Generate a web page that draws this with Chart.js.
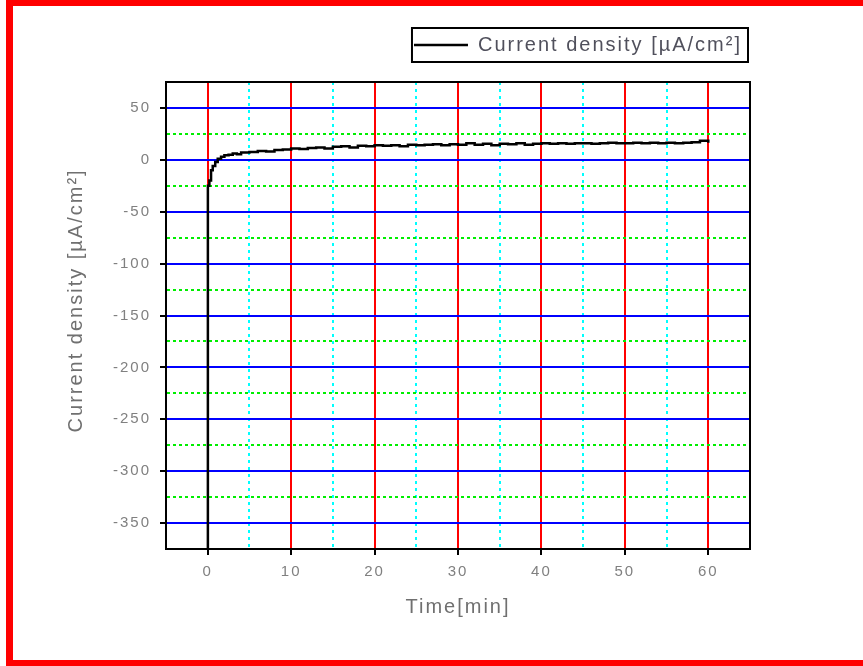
<!DOCTYPE html>
<html>
<head>
<meta charset="utf-8">
<script src="https://cdn.jsdelivr.net/npm/chart.js@4.4.1/dist/chart.umd.min.js"></script>
<style>
html, body { margin: 0; padding: 0; background: #fff; overflow: hidden; }
#wrap { position: relative; width: 863px; height: 666px; }
#frame { position: absolute; left: 6px; top: 0; width: 900px; height: 666px; box-sizing: border-box;
  border-top: 6px solid #f00; border-left: 7px solid #f00; border-bottom: 6px solid #f00; pointer-events: none; }
</style>
</head>
<body>
<div id="wrap">
  <canvas id="chart" width="863" height="666"></canvas>
  <div id="frame"></div>
</div>
<script>
// time in minutes and measured current density
var times = [0, 0.02, 0.2, 0.4, 0.6, 0.9, 1.2, 1.6, 2, 2.5, 3, 3.5, 4, 5, 6, 7, 8, 9, 10,
  11, 12, 13, 14, 15, 16, 17, 18, 19, 20, 21, 22, 23, 24, 25, 26, 27, 28, 29, 30,
  31, 32, 33, 34, 35, 36, 37, 38, 39, 40, 41, 42, 43, 44, 45, 46, 47, 48, 49, 50,
  51, 52, 53, 54, 55, 56, 57, 58, 59, 60];
var density = [-375, -25, -20, -10, -6, -2, 1, 3, 4.5, 5, 6, 5.5, 7, 7.5, 8.5, 8, 9.5, 10, 11,
  10.5, 11.5, 12, 11, 12.5, 13, 12, 13.5, 13, 14, 13.5, 14, 13, 14.5, 14, 14.5, 15, 14, 15, 14.5,
  16, 14.5, 15.5, 14, 15.5, 15, 16, 14.5, 15.5, 16, 15.5, 16, 15.5, 16, 16, 15.5, 16, 16.5, 16, 16,
  16.5, 16, 16.5, 16, 16.5, 16, 16.5, 17, 18.5, 16.5];
var xTickLabels = [0, 10, 20, 30, 40, 50, 60];
var yTickLabels = [50, 0, -50, -100, -150, -200, -250, -300, -350];

var points = times.map(function (t, i) { return { x: t, y: density[i] }; });

var spacing = {
  id: 'spacing',
  beforeUpdate: function (chart) { chart.ctx.letterSpacing = '2px'; },
  beforeDraw: function (chart) { chart.ctx.letterSpacing = '2px'; }
};

var frames = {
  id: 'frames',
  beforeInit: function (chart) {
    var fit = chart.legend.fit;
    chart.legend.fit = function () {
      fit.bind(chart.legend)();
      this.height = 55;
    };
  },
  afterDraw: function (chart) {
    var ctx = chart.ctx, a = chart.chartArea;
    ctx.save();
    ctx.strokeStyle = '#000';
    ctx.lineWidth = 2;
    ctx.strokeRect(a.left, a.top, a.right - a.left, a.bottom - a.top);
    var hb = chart.legend.legendHitBoxes[0];
    if (hb) {
      ctx.strokeRect(hb.left - 2, hb.top - 7, hb.width + 8, hb.height + 14);
    }
    ctx.restore();
  }
};

new Chart(document.getElementById('chart'), {
  type: 'line',
  data: {
    datasets: [{
      label: 'Current density [µA/cm²]',
      data: points,
      borderColor: '#000',
      backgroundColor: '#000',
      borderWidth: 2.5,
      pointRadius: 0,
      stepped: true
    }]
  },
  options: {
    responsive: false,
    animation: false,
    devicePixelRatio: 1,
    layout: { padding: { left: 62, right: 113, top: 27, bottom: 42 } },
    plugins: {
      legend: {
        position: 'top',
        align: 'end',
        labels: {
          boxWidth: 54,
          boxHeight: 0,
          padding: 8,
          color: '#50505c',
          font: { family: 'Liberation Sans', size: 20 }
        }
      },
      tooltip: { enabled: false }
    },
    scales: {
      x: {
        type: 'linear',
        min: -5,
        max: 65,
        afterFit: function (s) { s.height = 75; },
        ticks: {
          stepSize: 5,
          padding: 8,
          color: '#808080',
          font: { family: 'Liberation Sans', size: 15 },
          maxRotation: 0,
          autoSkip: false,
          callback: function (v) { return xTickLabels.indexOf(v) >= 0 ? v : ''; }
        },
        grid: {
          lineWidth: 2,
          tickLength: 6,
          tickWidth: 2,
          color: function (c) {
            var v = c.tick ? c.tick.value : 0;
            if (v <= -5 || v >= 65) return 'rgba(0,0,0,0)';
            return v % 10 === 0 ? '#ff0000' : '#00ffff';
          },
          tickColor: function (c) {
            return c.tick && c.tick.value % 10 === 0 ? '#000' : 'rgba(0,0,0,0)';
          }
        },
        border: {
          color: '#000',
          width: 2,
          dash: function (c) {
            return c.tick && c.tick.value % 10 !== 0 ? [3, 4] : [];
          }
        },
        title: {
          display: true,
          text: 'Time[min]',
          color: '#707070',
          padding: { top: 0, bottom: 5 },
          font: { family: 'Liberation Sans', size: 20 }
        }
      },
      y: {
        min: -375,
        max: 75,
        afterFit: function (s) { s.width = 104; },
        ticks: {
          stepSize: 25,
          padding: 9,
          color: '#808080',
          font: { family: 'Liberation Sans', size: 15 },
          autoSkip: false,
          callback: function (v) { return yTickLabels.indexOf(v) >= 0 ? v : ''; }
        },
        grid: {
          lineWidth: 2,
          tickLength: 6,
          tickWidth: 2,
          color: function (c) {
            var v = c.tick ? c.tick.value : 0;
            if (v <= -375 || v >= 75) return 'rgba(0,0,0,0)';
            return v % 50 === 0 ? '#0000ff' : '#00ee00';
          },
          tickColor: function (c) {
            return c.tick && c.tick.value % 50 === 0 ? '#000' : 'rgba(0,0,0,0)';
          }
        },
        border: {
          color: '#000',
          width: 2,
          dash: function (c) {
            return c.tick && c.tick.value % 50 !== 0 ? [3, 3] : [];
          }
        },
        title: {
          display: true,
          text: '    Current density [µA/cm²]',
          color: '#707070',
          padding: { top: 2, bottom: 0 },
          font: { family: 'Liberation Sans', size: 20 }
        }
      }
    }
  },
  plugins: [spacing, frames]
});
</script>
</body>
</html>
